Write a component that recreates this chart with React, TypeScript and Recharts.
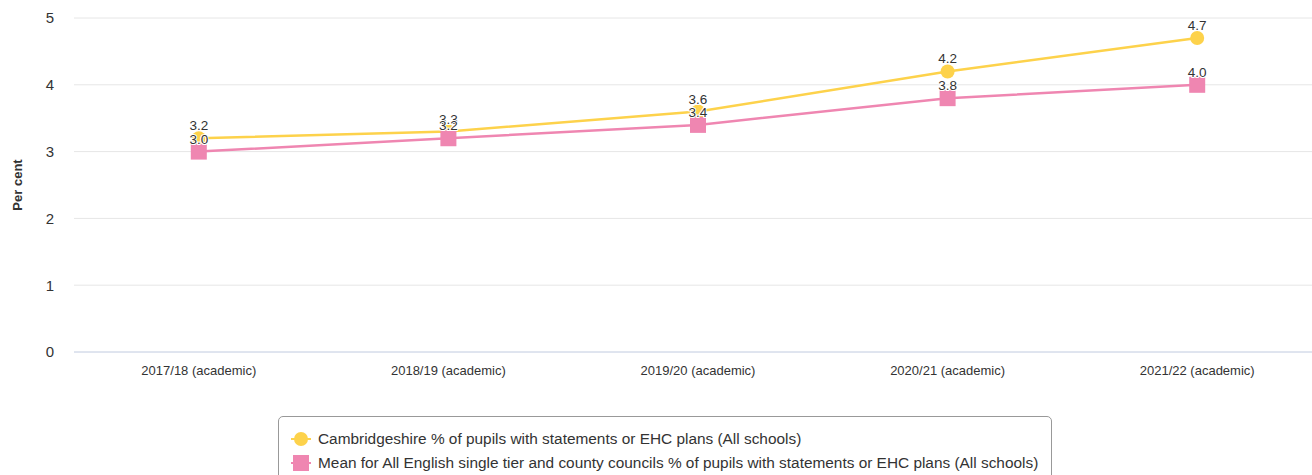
import { LineChart, Line, XAxis, YAxis, CartesianGrid, LabelList } from "recharts";

const years = [
  "2017/18 (academic)",
  "2018/19 (academic)",
  "2019/20 (academic)",
  "2020/21 (academic)",
  "2021/22 (academic)",
];
const cambridgeshire = [3.2, 3.3, 3.6, 4.2, 4.7];
const englishMean = [3.0, 3.2, 3.4, 3.8, 4.0];
const yTicks = [0, 1, 2, 3, 4, 5];

const seriesNames = [
  "Cambridgeshire % of pupils with statements or EHC plans (All schools)",
  "Mean for All English single tier and county councils % of pupils with statements or EHC plans (All schools)",
];

const YELLOW = "#fdd24b";
const PINK = "#ef86b1";
const FONT = '"Liberation Sans", Arial, sans-serif';

const data = years.map((year, i) => ({
  year,
  cambs: cambridgeshire[i],
  mean: englishMean[i],
}));

const CircleDot = (props: any) => {
  const { cx, cy } = props;
  if (cx == null || cy == null) return null;
  return <circle cx={cx} cy={cy} r={7} fill={YELLOW} />;
};

const SquareDot = (props: any) => {
  const { cx, cy } = props;
  if (cx == null || cy == null) return null;
  return <rect x={cx - 8} y={cy - 8} width={16} height={16} fill={PINK} />;
};

const labelStyle = {
  fontSize: 13.5,
  fill: "#333333",
  stroke: "#ffffff",
  strokeWidth: 2,
  paintOrder: "stroke",
  fontFamily: FONT,
} as any;

const YTitle = (props: any) => {
  const vb = props.viewBox || { y: 18, height: 334 };
  const cy = vb.y + vb.height / 2;
  return (
    <text
      x={22}
      y={cy}
      transform={`rotate(-90 22 ${cy})`}
      textAnchor="middle"
      fontSize={13}
      fontWeight="bold"
      fill="#333333"
      fontFamily={FONT}
    >
      Per cent
    </text>
  );
};

function LegendBox() {
  const items = [
    { name: seriesNames[0], color: YELLOW, shape: "circle" },
    { name: seriesNames[1], color: PINK, shape: "square" },
  ];
  return (
    <div
      style={{
        position: "absolute",
        left: 278,
        top: 416,
        width: 774,
        height: 80,
        border: "1px solid #999999",
        borderRadius: 5,
        boxSizing: "border-box",
        background: "#fff",
        paddingTop: 10,
        paddingLeft: 12,
      }}
    >
      {items.map((it) => (
        <div
          key={it.name}
          style={{
            display: "flex",
            alignItems: "center",
            height: 24,
            fontSize: 15.4,
            color: "#333333",
            fontFamily: FONT,
            whiteSpace: "nowrap",
          }}
        >
          <svg width={20} height={16} style={{ marginRight: 7 }}>
            <line x1={0} y1={8} x2={20} y2={8} stroke={it.color} strokeWidth={2} />
            {it.shape === "circle" ? (
              <circle cx={10} cy={8} r={7} fill={it.color} />
            ) : (
              <rect x={2} y={0} width={16} height={16} fill={it.color} />
            )}
          </svg>
          {it.name}
        </div>
      ))}
    </div>
  );
}

export default function App() {
  return (
    <div
      style={{
        position: "absolute",
        left: 0,
        top: 0,
        width: 1312,
        height: 475,
        overflow: "hidden",
        background: "#ffffff",
        fontFamily: FONT,
      }}
    >
      <LineChart
        width={1322}
        height={400}
        data={data}
        margin={{ top: 18, right: 0, bottom: 18, left: 0 }}
      >
        <CartesianGrid vertical={false} stroke="#e6e6e6" />
        <XAxis
          dataKey="year"
          height={30}
          padding={{ left: 124.8, right: 124.8 }}
          tickLine={false}
          tickSize={0}
          tickMargin={14}
          axisLine={{ stroke: "#ccd6eb" }}
          tick={{ fontSize: 13, fill: "#333333", fontFamily: FONT }}
        />
        <YAxis
          width={74}
          domain={[0, 5]}
          ticks={yTicks}
          axisLine={false}
          tickLine={false}
          tickSize={0}
          tickMargin={20}
          tick={{ fontSize: 15, fill: "#333333", fontFamily: FONT }}
          label={{ content: YTitle }}
        />
        <Line
          dataKey="cambs"
          name={seriesNames[0]}
          stroke={YELLOW}
          strokeWidth={2.5}
          dot={<CircleDot />}
          activeDot={false}
          isAnimationActive={false}
        >
          <LabelList
            dataKey="cambs"
            position="top"
            offset={8}
            formatter={(v: any) => Number(v).toFixed(1)}
            style={labelStyle}
          />
        </Line>
        <Line
          dataKey="mean"
          name={seriesNames[1]}
          stroke={PINK}
          strokeWidth={2.5}
          dot={<SquareDot />}
          activeDot={false}
          isAnimationActive={false}
        >
          <LabelList
            dataKey="mean"
            position="top"
            offset={8}
            formatter={(v: any) => Number(v).toFixed(1)}
            style={labelStyle}
          />
        </Line>
      </LineChart>
      <LegendBox />
    </div>
  );
}
